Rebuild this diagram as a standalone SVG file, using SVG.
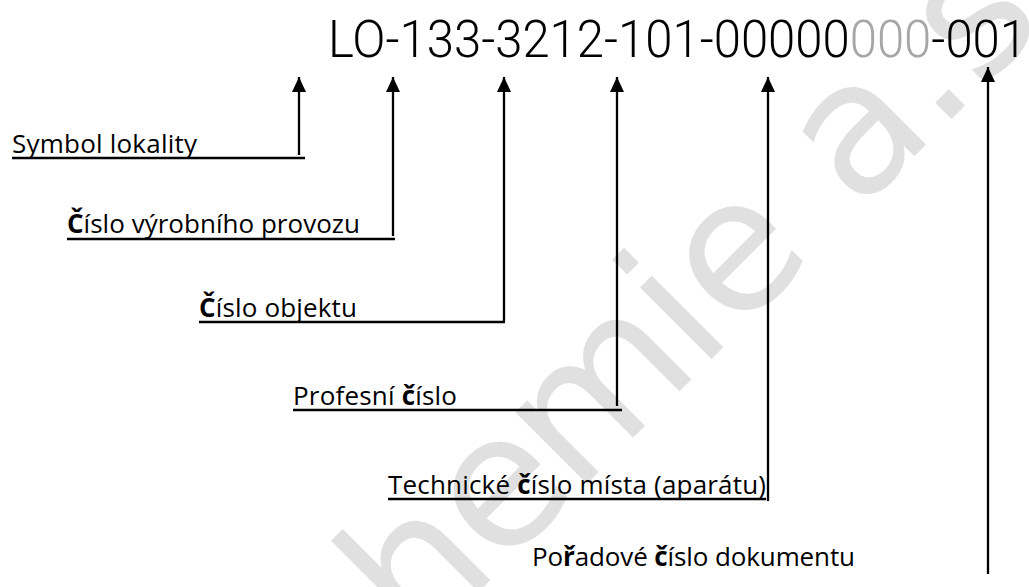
<svg xmlns="http://www.w3.org/2000/svg" width="1029" height="587" viewBox="0 0 1029 587">
<defs>
<style>
.wm{font-family:"DejaVu Sans",sans-serif;font-size:185px;fill:#e0e0e0}
.title{font-family:Roboto,"Liberation Sans",sans-serif;font-weight:300;font-size:51px;fill:#000}
.gray{fill:#a6a6a6}
.lbl{font-family:"Open Sans","Noto Sans",sans-serif;font-size:26px;fill:#000}
.b{font-weight:700}
.ln{stroke:#000;stroke-width:2.3;fill:none}
.ar{stroke:#000;stroke-width:2.3;fill:none;marker-end:url(#ah)}
</style>
<marker id="ah" viewBox="0 0 15 14" refX="15" refY="7" markerWidth="15" markerHeight="14" markerUnits="userSpaceOnUse" orient="auto">
<path d="M0,0 L15,7 L0,14 z" fill="#000"/>
</marker>
</defs>
<rect width="1029" height="587" fill="#fff"/>
<text class="wm" transform="rotate(-45)" y="757" x="-165 -50 56 232 283 397 456 569 628 724">hemie a.s.</text>
<g id="code">
<text class="title" x="328" y="57" textLength="699" lengthAdjust="spacingAndGlyphs">LO-133-3212-101-00000<tspan class="gray">000</tspan>-001</text>
</g>
<g id="n1"><text class="lbl" x="12" y="153" textLength="185" lengthAdjust="spacing">Symbol lokality</text></g>
<g id="n2"><text class="lbl" x="67" y="233" textLength="293" lengthAdjust="spacing"><tspan class="b">Č</tspan>íslo výrobního provozu</text></g>
<g id="n3"><text class="lbl" x="199" y="317" textLength="158" lengthAdjust="spacing"><tspan class="b">Č</tspan>íslo objektu</text></g>
<g id="n4"><text class="lbl" x="293" y="405" textLength="164" lengthAdjust="spacing">Profesní <tspan class="b">č</tspan>íslo</text></g>
<g id="n5"><text class="lbl" x="388" y="494" textLength="378" lengthAdjust="spacing">Technické <tspan class="b">č</tspan>íslo místa (aparátu)</text></g>
<g id="n6"><text class="lbl" x="532" y="566" textLength="323" lengthAdjust="spacing">Po<tspan class="b">ř</tspan>adové <tspan class="b">č</tspan>íslo dokumentu</text></g>
<g id="connectors">
<path class="ln" d="M12 158 H305"/>
<path class="ar" d="M299 155 V77"/>
<path class="ln" d="M67 239 H395"/>
<path class="ar" d="M393 236 V77"/>
<path class="ln" d="M199 322 H505"/>
<path class="ar" d="M504 321 V77"/>
<path class="ln" d="M293 410 H622"/>
<path class="ar" d="M617 406 V77"/>
<path class="ln" d="M388 499 H766"/>
<path class="ar" d="M768 501 V77"/>
<path class="ar" d="M988 574 V67"/>
</g>
</svg>
